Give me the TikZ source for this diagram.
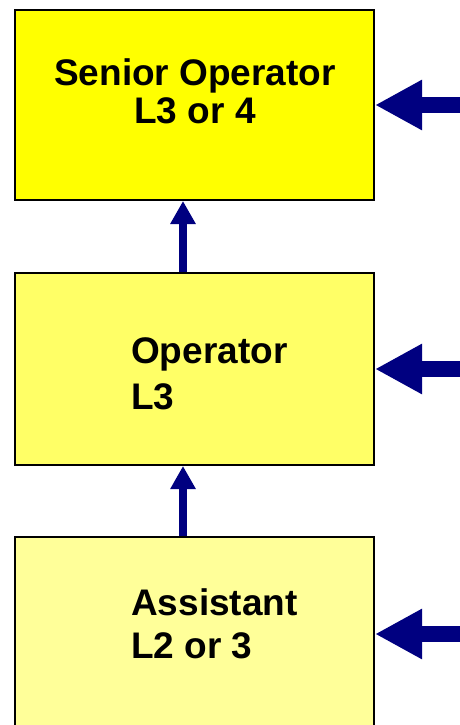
\documentclass[tikz,border=0pt]{standalone}
\usepackage{fontspec}
\setmainfont{Liberation Sans}
\usetikzlibrary{arrows.meta}
\definecolor{navyarrow}{HTML}{000080}
\definecolor{yellowA}{HTML}{FFFF00}
\definecolor{yellowB}{HTML}{FFFF66}
\definecolor{yellowC}{HTML}{FFFF99}
\tikzset{
  levelbox/.style={draw=black, line width=2pt, minimum width=359pt, inner sep=0pt, rectangle},
  boxtext/.style={inner sep=0pt, font=\bfseries\fontsize{37}{38}\selectfont},
  uparrow/.style={draw=navyarrow, line width=8pt, -{Triangle[width=24pt,length=23pt]}},
  sidearrow/.style={draw=navyarrow, line width=16pt, -{Triangle[width=47pt,length=47pt]}},
}
\begin{document}
\begin{tikzpicture}[x=1pt,y=-1pt]
\useasboundingbox (0,0) rectangle (459,725);
% boxes
\node[levelbox, fill=yellowA, minimum height=190pt] (senior) at (194.5,105) {};
\node[levelbox, fill=yellowB, minimum height=192pt] (operator) at (194.5,369) {};
\node[levelbox, fill=yellowC, minimum height=230pt] (assistant) at (194.5,652) {};
% texts (base anchor = baseline of the last line)
\node[boxtext, align=center, anchor=base, font=\bfseries\fontsize{37}{38}\selectfont] (seniorText) at (195,123) {Senior Operator\\L3 or 4};
\node[boxtext, align=left, anchor=base west, font=\bfseries\fontsize{37}{46}\selectfont] (operatorText) at (131,409) {Operator\\L3};
\node[boxtext, align=left, anchor=base west, font=\bfseries\fontsize{37}{43}\selectfont] (assistantText) at (131,658) {Assistant\\L2 or 3};
% vertical arrows
\draw[uparrow] (operator.north -| 183,0) -- (senior.south -| 183,0);
\draw[uparrow] (assistant.north -| 183,0) -- (operator.south -| 183,0);
% side arrows
\coordinate (inA) at (480,105);
\coordinate (inB) at (480,369);
\coordinate (inC) at (480,634);
\draw[sidearrow] (inA) -- (senior.east |- inA);
\draw[sidearrow] (inB) -- (operator.east |- inB);
\draw[sidearrow] (inC) -- (assistant.east |- inC);
\end{tikzpicture}
\end{document}
